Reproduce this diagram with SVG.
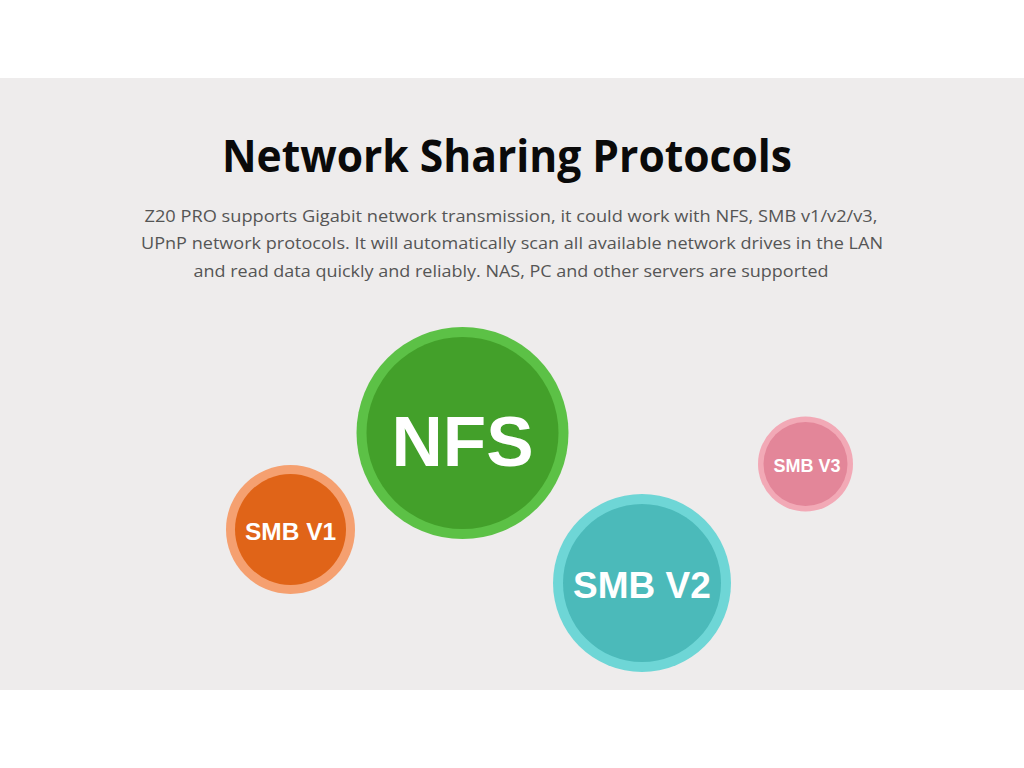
<svg xmlns="http://www.w3.org/2000/svg" width="1024" height="768" viewBox="0 0 1024 768">
<style>
.title{font-family:"Open Sans","Noto Sans",sans-serif;font-weight:700;font-size:44px;fill:#0a0a0a}
.para{font-family:"Open Sans","Noto Sans",sans-serif;font-size:17px;fill:#555}
.lbl{font-family:"Liberation Sans",Arial,sans-serif;font-weight:700;fill:#fff}
</style>
<rect x="0" y="0" width="1024" height="768" fill="#ffffff"/>
<rect x="0" y="78" width="1024" height="612" fill="#eeecec"/>
<text class="title" x="507" y="172" text-anchor="middle" textLength="570" lengthAdjust="spacingAndGlyphs">Network Sharing Protocols</text>
<text class="para" x="511" y="222" text-anchor="middle" textLength="733" lengthAdjust="spacingAndGlyphs">Z20 PRO supports Gigabit network transmission, it could work with NFS, SMB v1/v2/v3,</text>
<text class="para" x="512" y="249" text-anchor="middle" textLength="742" lengthAdjust="spacingAndGlyphs">UPnP network protocols. It will automatically scan all available network drives in the LAN</text>
<text class="para" x="511" y="277" text-anchor="middle" textLength="635" lengthAdjust="spacingAndGlyphs">and read data quickly and reliably. NAS, PC and other servers are supported</text>
<g id="nfs">
<circle cx="462.5" cy="433" r="106" fill="#5cc146"/>
<circle cx="462.5" cy="433" r="96" fill="#43a02a"/>
<text class="lbl" x="462.5" y="466" font-size="71" text-anchor="middle">NFS</text>
</g>
<g id="smb-v1">
<circle cx="290.5" cy="529.5" r="64.5" fill="#f5a070"/>
<circle cx="290.5" cy="529.5" r="55.5" fill="#e06418"/>
<text class="lbl" x="290.5" y="540" font-size="24.5" text-anchor="middle">SMB V1</text>
</g>
<g id="smb-v2">
<circle cx="642" cy="583" r="89" fill="#6ed6d6"/>
<circle cx="642" cy="583" r="79" fill="#4bbaba"/>
<text class="lbl" x="642" y="598" font-size="37" text-anchor="middle">SMB V2</text>
</g>
<g id="smb-v3">
<circle cx="805.5" cy="464" r="47.5" fill="#f2a9b6"/>
<circle cx="805.5" cy="464" r="42" fill="#e38699"/>
<text class="lbl" x="807" y="472" font-size="18" text-anchor="middle">SMB V3</text>
</g>
<g id="connectors"/>
</svg>
